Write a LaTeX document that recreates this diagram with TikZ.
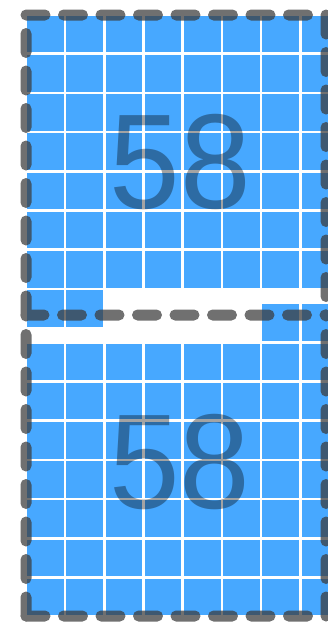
\documentclass[tikz,border=0pt]{standalone}
\usepackage{fontspec}
\newfontfamily\countfont[FakeStretch=0.94]{Liberation Sans}
\definecolor{cellblue}{RGB}{71,168,255}
\definecolor{rim}{RGB}{59,59,59}

\begin{document}
\begin{tikzpicture}[x=1pt,y=-1pt,
  cell/.style={fill=cellblue},
  outline/.style={draw=rim,line width=11pt,line cap=round,line join=round,dash pattern=on 19pt off 18.5pt},
  count/.style={text=black,text opacity=.36,inner sep=0pt,font=\countfont\fontsize{135}{135}\selectfont}]
  \useasboundingbox (0,0) rectangle (328,622);
  \clip (0,0) rectangle (328,622);
  \foreach \r in {0,...,6}
    \foreach \c in {0,...,7}
      \fill[cell] (27.2+39.2*\c,15.8+39.2*\r) rectangle ++(36.5,36.5);
  \foreach \c in {0,1}
    \fill[cell] (27.2+39.2*\c,15.8+39.2*7) rectangle ++(36.5,36.5);
  \foreach \c in {6,7}
    \fill[cell] (27.2+39.2*\c,304.4) rectangle ++(36.5,36.5);
  \foreach \r in {1,...,7}
    \foreach \c in {0,...,7}
      \fill[cell] (27.2+39.2*\c,304.4+39.2*\r) rectangle ++(36.5,36.5);
  \begin{scope}[transparency group,opacity=.73]
    \draw[outline] (26,315) |- (326,15) -- (326,315);
    \draw[outline] (26,616) |- (326,315);
    \draw[outline] (26,616) -| (326,315);
  \end{scope}
  \node[count] (upper) at (180.5,162.5) {58};
  \node[count] (lower) at (180,462) {58};
\end{tikzpicture}
\end{document}
